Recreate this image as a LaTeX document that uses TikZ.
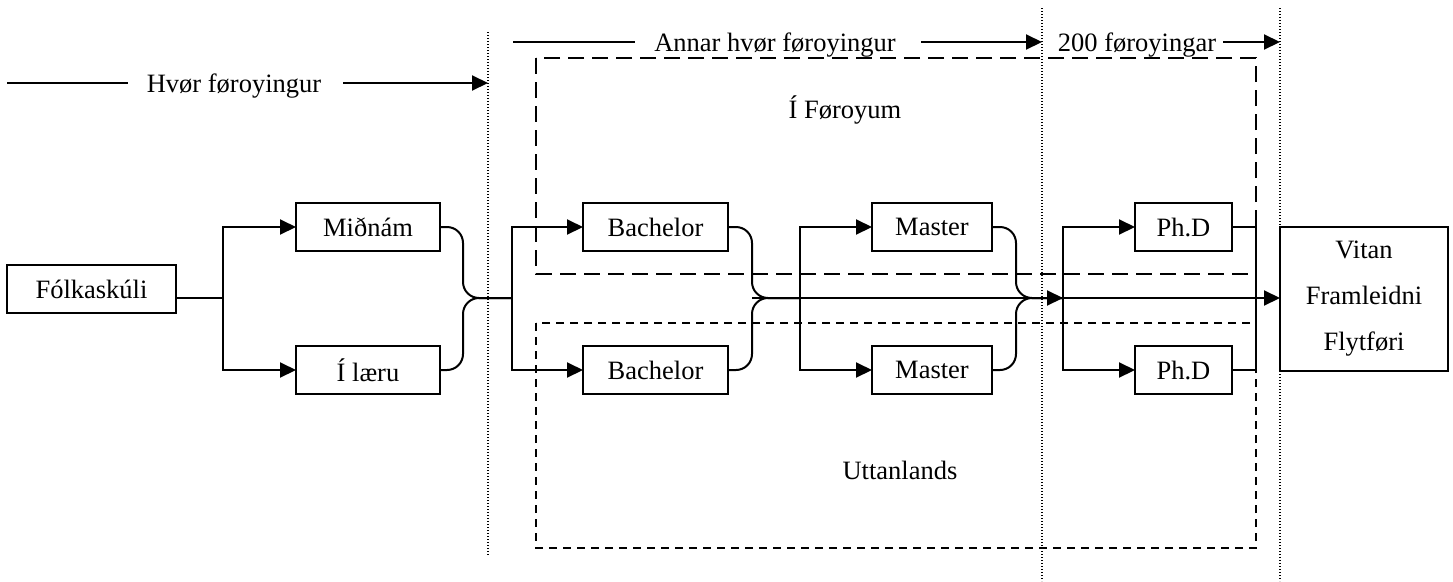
\documentclass[tikz,border=0pt]{standalone}
\usepackage{fontspec}
\setmainfont{Liberation Serif}
\usetikzlibrary{arrows.meta}
\begin{document}
\begin{tikzpicture}[x=1pt,y=-1pt,
  every node/.style={font=\fontsize{26.5}{32}\selectfont},
  box/.style={draw, line width=2pt, inner sep=0pt, outer sep=0pt, minimum height=48pt},
  conn/.style={line width=2pt},
  arr/.style={line width=2pt, -{Triangle[length=16pt,width=15pt]}},
  merge/.style={line width=2pt, rounded corners=16pt},
  sep/.style={line width=1.3pt, dash pattern=on 1.3pt off 1.7pt},
  longdash/.style={line width=2pt, dash pattern=on 16pt off 8pt},
  shortdash/.style={line width=2pt, dash pattern=on 8pt off 6pt},
  lbl/.style={inner sep=0pt, anchor=base}
]
\path (0,0) rectangle (1453,581);

% separators
\coordinate (s1a) at (488,32);   \coordinate (s1b) at (488,555);
\coordinate (s2a) at (1042,8);   \coordinate (s2b) at (1042,581);
\coordinate (s3a) at (1280,8);   \coordinate (s3b) at (1280,581);
\draw[sep] (s1a) -- (s1b);
\draw[sep] (s2a) -- (s2b);
\draw[sep] (s3a) -- (s3b);

% regions
\coordinate (fa) at (536,58);  \coordinate (fb) at (1256,274);
\coordinate (ua) at (536,323); \coordinate (ub) at (1256,548);
\draw[longdash] (fa) rectangle (fb);
\draw[shortdash] (ua) rectangle (ub);
\node (foroyum) at (845,110) {Í Føroyum};
\node (uttan) at (900,470) {Uttanlands};

% top labels
\node[lbl] (t1) at (234,92) {Hvør føroyingur};
\coordinate (a1s) at (7,83);   \coordinate (a1e) at (128,83);
\coordinate (a2s) at (343,83); \coordinate (a2e) at (488,83);
\draw[conn] (a1s) -- (a1e);
\draw[arr] (a2s) -- (a2e);

\node[lbl] (t2) at (775,51) {Annar hvør føroyingur};
\coordinate (b1s) at (513,42); \coordinate (b1e) at (635,42);
\coordinate (b2s) at (921,42); \coordinate (b2e) at (1042,42);
\draw[conn] (b1s) -- (b1e);
\draw[arr] (b2s) -- (b2e);

\node[lbl] (t3) at (1137,51) {200 føroyingar};
\coordinate (c1s) at (1223,42); \coordinate (c1e) at (1280,42);
\draw[arr] (c1s) -- (c1e);

% boxes
\node[box, minimum width=169pt] (folk) at (91.5,289) {Fólkaskúli};
\node[box, minimum width=144pt] (mid) at (368,227) {Miðnám};
\node[box, minimum width=144pt] (laer) at (368,370) {Í læru};
\node[box, minimum width=145pt] (bach1) at (655.5,227) {Bachelor};
\node[box, minimum width=145pt] (bach2) at (655.5,370) {Bachelor};
\node[box, minimum width=120pt] (mast1) at (932,227) {Master};
\node[box, minimum width=120pt] (mast2) at (932,370) {Master};
\node[box, minimum width=97pt] (phd1) at (1183.5,227) {Ph.D};
\node[box, minimum width=97pt] (phd2) at (1183.5,370) {Ph.D};
\node[box, minimum width=168pt, minimum height=144pt, align=center,
      font=\fontsize{26.5}{46}\selectfont] (vitan) at (1364,299) {Vitan\\Framleidni\\Flytføri};

% junctions
\coordinate (f1) at (223,298);
\coordinate (j1) at (463,298);  \coordinate (f2) at (512,298);
\coordinate (j2) at (752,298);  \coordinate (f3) at (800,298);
\coordinate (j3) at (1016,298); \coordinate (f4) at (1063,298);
\coordinate (g)  at (1256,298);

\draw[conn] (folk.east |- f1) -- (f1);
\draw[arr] (f1) |- (mid.west);
\draw[arr] (f1) |- (laer.west);

\draw[merge] (mid.east) -| (j1) -- (f2);
\draw[merge] (laer.east) -| (j1) -- (f2);
\draw[arr] (f2) |- (bach1.west);
\draw[arr] (f2) |- (bach2.west);

\draw[merge] (bach1.east) -| (j2) -- (f3);
\draw[merge] (bach2.east) -| (j2) -- (f3);
\draw[arr] (f3) |- (mast1.west);
\draw[arr] (f3) |- (mast2.west);

\draw[merge] (mast1.east) -| (j3) -- (f4);
\draw[merge] (mast2.east) -| (j3) -- (f4);
\draw[arr] (j2) -- (f4);
\draw[arr] (f4) |- (phd1.west);
\draw[arr] (f4) |- (phd2.west);
\draw[arr] (f4) -- (vitan.west |- f4);

\draw[conn] (phd1.east) -| (g) |- (phd2.east);
\end{tikzpicture}
\end{document}
